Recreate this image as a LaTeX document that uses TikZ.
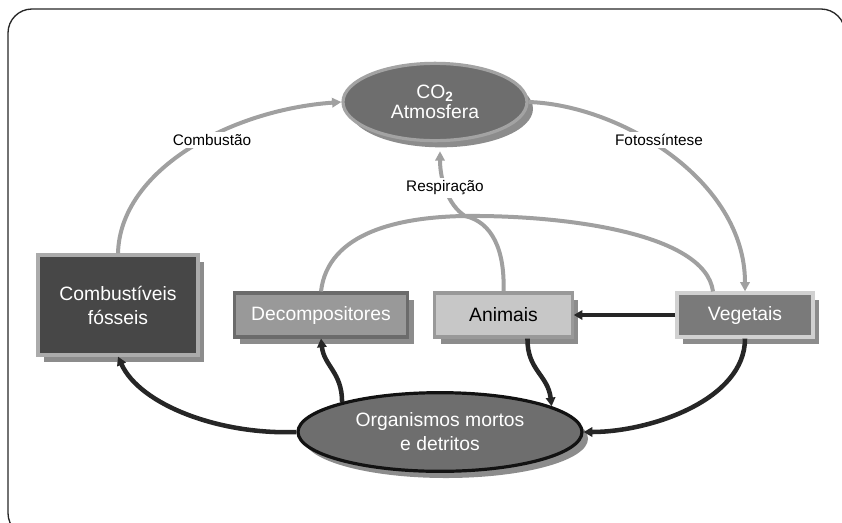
\documentclass[tikz,border=0pt]{standalone}
\usepackage{fontspec}
\setmainfont{Liberation Sans}
\usetikzlibrary{shapes.geometric,shadows,arrows.meta,calc}
\definecolor{grayln}{HTML}{A0A0A0}
\definecolor{blackln}{HTML}{262626}
\begin{document}
\begin{tikzpicture}[x=0.75pt,y=-0.75pt,
  shad/.style={drop shadow={shadow xshift=4.5pt,shadow yshift=-5pt,fill=black!45,opacity=1}},
  boxlbl/.style={font=\fontsize{14.5}{18}\selectfont,align=center,inner sep=0pt},
  rbox/.style={rectangle,boxlbl,shad,line width=2.4pt},
  ebox/.style={ellipse,boxlbl,shad,line width=2.4pt},
  graylink/.style={draw=grayln,line width=3pt,-{Triangle[length=7pt,width=7pt]}},
  grayplain/.style={draw=grayln,line width=3pt},
  blacklink/.style={draw=blackln,line width=3.4pt,-{Triangle[length=6.5pt,width=7pt]}},
  lbl/.style={font=\fontsize{11.5}{14}\selectfont,fill=white,inner sep=2pt}]
\useasboundingbox (0,0) rectangle (842,522);
\draw[line width=1pt,draw=black!85,rounded corners=18pt] (8,9) rectangle (845,537);

% nodes
\node[ebox,fill=black!57,draw=black!36,text=white,minimum width=138pt,minimum height=58pt] (co2) at (435,102)
  {\raisebox{-3pt}{CO\textsubscript{\textbf{2}}}\\Atmosfera};
\node[rbox,fill=black!72,draw=black!33,text=white,minimum width=120pt,minimum height=75pt] (comb) at (118,305)
  {Combustíveis\\fósseis};
\node[rbox,fill=black!40,draw=black!58,text=white,minimum width=130pt,minimum height=33pt] (dec) at (321,315)
  {Decompositores};
\node[rbox,fill=black!22,draw=black!40,text=black,minimum width=103pt,minimum height=33pt] (ani) at (503.5,315)
  {Animais};
\node[rbox,fill=black!52,draw=black!18,text=white,minimum width=102pt,minimum height=33pt] (veg) at (745,315)
  {Vegetais};
\node[ebox,fill=black!57,draw=black!93,text=white,minimum width=213pt,minimum height=59pt] (org) at (440,432)
  {Organismos mortos\\e detritos};

% gray connectors
\coordinate (junc) at (465,216);
\coordinate (vegtl) at ($(veg.north)+(-32,0)$);
\coordinate (co2in) at ($(co2.south)+(5,9)$);
\draw[graylink] (comb.north) .. controls (120,170) and (230,110) .. (co2.west);
\draw[graylink] (co2.east) .. controls (620,105) and (745,180) .. (veg.north);
\draw[grayplain] (dec.north) .. controls (328,232) and (400,217) .. (junc)
  .. controls (560,215) and (705,232) .. (vegtl);
\draw[graylink] (ani.north) .. controls (505,250) and (492,222) .. (junc)
  .. controls (448,205) and (440,180) .. (co2in);

\node[lbl] (lcomb) at (212,140) {Combustão};
\node[lbl] (lfoto) at (659,140) {Fotossíntese};
\node[lbl] (lresp) at (445,188) {Respiração};

% black connectors
\coordinate (anibot) at ($(ani.south)+(24,0)$);
\draw[blacklink] (org.west) .. controls (220,435) and (140,405) .. (comb.south);
\draw[blacklink] (org.163.5) .. controls (342,372) and (324,366) .. (dec.south);
\draw[blacklink] (anibot) .. controls (527,370) and (548,375) .. (org.13);
\draw[blacklink] (veg.south) .. controls (745,400) and (650,432) .. (org.east);
\draw[blacklink] (veg.west) -- (ani.east);
\end{tikzpicture}
\end{document}
